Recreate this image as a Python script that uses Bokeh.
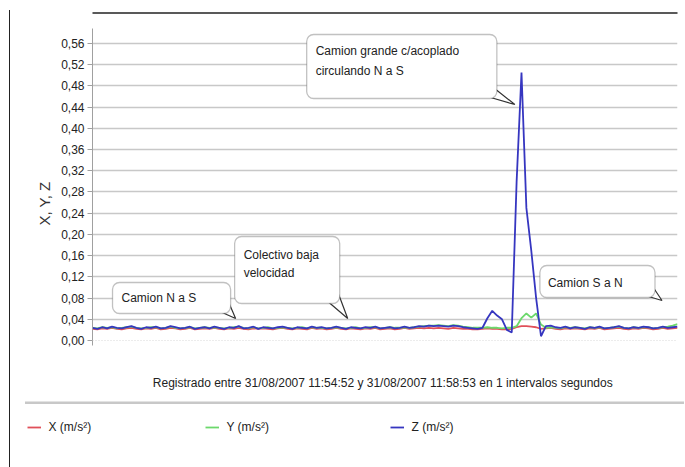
from bokeh.plotting import figure
from bokeh.layouts import column
from bokeh.models import (BoxAnnotation, Label, Legend, LegendItem, FixedTicker,
                          Range1d, Span)
from bokeh.embed import file_html
from bokeh.resources import INLINE

# ---- data (one sample every 2 s, 31/08/2007 11:54:52 - 11:58:53) ----
x_ms2 = [0.022, 0.021, 0.023, 0.022, 0.024, 0.022, 0.021, 0.023, 0.024, 0.022,
         0.021, 0.023, 0.022, 0.024, 0.021, 0.022, 0.024, 0.023, 0.021, 0.022,
         0.024, 0.021, 0.022, 0.023, 0.022, 0.024, 0.022, 0.021, 0.023, 0.022,
         0.024, 0.022, 0.021, 0.023, 0.022, 0.023, 0.022, 0.021, 0.023, 0.024,
         0.022, 0.021, 0.023, 0.022, 0.021, 0.024, 0.022, 0.023, 0.021, 0.022,
         0.024, 0.022, 0.021, 0.023, 0.022, 0.021, 0.023, 0.022, 0.024, 0.021,
         0.022, 0.023, 0.021, 0.022, 0.024, 0.022, 0.023, 0.024, 0.023, 0.024,
         0.023, 0.024, 0.023, 0.022, 0.024, 0.023, 0.022, 0.022, 0.021, 0.021,
         0.022, 0.023, 0.022, 0.022, 0.021, 0.021, 0.022, 0.025, 0.027, 0.027,
         0.026, 0.025, 0.022, 0.023, 0.024, 0.022, 0.021, 0.023, 0.022, 0.023,
         0.022, 0.021, 0.023, 0.022, 0.024, 0.021, 0.022, 0.023, 0.024, 0.022,
         0.021, 0.023, 0.022, 0.024, 0.023, 0.021, 0.022, 0.024, 0.022, 0.023,
         0.024]
y_ms2 = [0.024, 0.023, 0.025, 0.024, 0.025, 0.023, 0.024, 0.025, 0.026, 0.024,
         0.023, 0.024, 0.025, 0.025, 0.023, 0.024, 0.026, 0.024, 0.023, 0.024,
         0.025, 0.023, 0.024, 0.025, 0.024, 0.025, 0.024, 0.023, 0.024, 0.025,
         0.026, 0.024, 0.023, 0.025, 0.023, 0.024, 0.025, 0.023, 0.024, 0.025,
         0.024, 0.023, 0.024, 0.025, 0.023, 0.025, 0.024, 0.024, 0.023, 0.024,
         0.025, 0.024, 0.023, 0.024, 0.025, 0.023, 0.024, 0.025, 0.025, 0.023,
         0.024, 0.025, 0.024, 0.024, 0.025, 0.024, 0.025, 0.026, 0.027, 0.028,
         0.028, 0.029, 0.028, 0.027, 0.029, 0.028, 0.026, 0.025, 0.024, 0.024,
         0.024, 0.025, 0.024, 0.024, 0.023, 0.024, 0.024, 0.027, 0.042, 0.051,
         0.043, 0.051, 0.030, 0.024, 0.025, 0.024, 0.023, 0.025, 0.024, 0.025,
         0.024, 0.023, 0.025, 0.024, 0.025, 0.023, 0.024, 0.025, 0.026, 0.024,
         0.023, 0.025, 0.024, 0.025, 0.025, 0.023, 0.024, 0.025, 0.026, 0.028,
         0.031]
z_ms2 = [0.024, 0.022, 0.025, 0.023, 0.026, 0.024, 0.023, 0.025, 0.027, 0.024,
         0.022, 0.025, 0.024, 0.026, 0.023, 0.024, 0.027, 0.025, 0.023, 0.024,
         0.026, 0.022, 0.024, 0.025, 0.023, 0.026, 0.024, 0.022, 0.025, 0.024,
         0.027, 0.023, 0.024, 0.026, 0.022, 0.025, 0.024, 0.023, 0.025, 0.026,
         0.024, 0.022, 0.025, 0.024, 0.023, 0.026, 0.024, 0.025, 0.023, 0.024,
         0.026, 0.024, 0.022, 0.025, 0.024, 0.023, 0.025, 0.024, 0.026, 0.023,
         0.024, 0.025, 0.023, 0.024, 0.026, 0.024, 0.025, 0.027, 0.026, 0.028,
         0.027, 0.028, 0.027, 0.026, 0.028, 0.027, 0.025, 0.024, 0.023, 0.022,
         0.024, 0.042, 0.056, 0.047, 0.040, 0.020, 0.015, 0.300, 0.505, 0.250,
         0.170, 0.080, 0.008, 0.027, 0.028, 0.025, 0.024, 0.026, 0.023, 0.025,
         0.024, 0.022, 0.025, 0.024, 0.026, 0.023, 0.024, 0.025, 0.027, 0.024,
         0.023, 0.025, 0.024, 0.026, 0.025, 0.023, 0.024, 0.026, 0.024, 0.025,
         0.026]
series_names = ["X (m/s²)", "Y (m/s²)", "Z (m/s²)"]
series_colors = ["#e0505a", "#6cd86c", "#3636c0"]
y_ticks = [0.00, 0.04, 0.08, 0.12, 0.16, 0.20, 0.24, 0.28, 0.32, 0.36, 0.40, 0.44, 0.48, 0.52, 0.56]
y_tick_labels = ["0,00", "0,04", "0,08", "0,12", "0,16", "0,20", "0,24", "0,28",
                 "0,32", "0,36", "0,40", "0,44", "0,48", "0,52", "0,56"]
caption = "Registrado entre 31/08/2007 11:54:52 y 31/08/2007 11:58:53 en 1 intervalos segundos"
callout_texts = [["Camion N a S"], ["Colectivo baja", "velocidad"],
                 ["Camion grande c/acoplado", "circulando N a S"], ["Camion S a N"]]

FONT = "Liberation Sans"
n = len(z_ms2)
idx = list(range(n))

# ---- layout geometry (page pixels) ----
MARGIN_TOP = 10
OX, OY = 10.5, MARGIN_TOP    # content origin
FRAME_L, FRAME_R = 93.0, 677.5
ZERO_PY, PX_PER_UNIT = 340.0, 530.4
TOP_H = 386
W = 674
PX_PER_IDX = (FRAME_R - FRAME_L) / (n - 1)
TOP_LINE_Y = 12.5            # outer frame top edge (page y)


def ix(px):
    return (px - FRAME_L) / PX_PER_IDX


def vy(py):
    return (ZERO_PY - py) / PX_PER_UNIT


y_top = vy(OY)
y_bot = vy(OY + TOP_H)

p = figure(width=W, height=TOP_H, output_backend="svg", toolbar_location=None,
           x_range=Range1d(0, n - 1), y_range=Range1d(y_bot, y_top),
           x_axis_location=None,
           min_border_left=int(FRAME_L - OX), min_border_right=int(OX + W - FRAME_R),
           min_border_top=0, min_border_bottom=0)
p.frame_align = False
p.outline_line_color = None
p.xgrid.visible = False

ax = p.yaxis[0]
ax.ticker = FixedTicker(ticks=y_ticks)
ax.bounds = (vy(345), vy(28))
ax.major_label_overrides = {t: l for t, l in zip(y_ticks, y_tick_labels)}
ax.major_label_text_font = FONT
ax.major_label_text_font_size = "12px"
ax.major_label_text_color = "#222222"
ax.major_label_standoff = 3
ax.major_tick_out = 5
ax.major_tick_in = 0
ax.minor_tick_line_color = None
ax.major_tick_line_color = "#a0a0a0"
ax.axis_line_color = "#a0a0a0"
ax.axis_label = "X, Y, Z"
ax.axis_label_text_font = FONT
ax.axis_label_text_font_style = "normal"
ax.axis_label_text_font_size = "15px"
ax.axis_label_text_color = "#333333"
ax.axis_label_standoff = 5
p.ygrid.ticker = FixedTicker(ticks=y_ticks[1:])
p.ygrid.grid_line_color = "#c8c8c8"
p.ygrid.grid_line_width = 1.5
p.add_layout(Span(location=0, dimension="width", line_color="#d8d8d8", line_dash="1 2", line_width=1))

# outer frame top edge (drawn inside the plot area)
p.add_layout(BoxAnnotation(left=ix(FRAME_L - 2), right=ix(FRAME_R + 8),
                           top=vy(TOP_LINE_Y - 0.75), bottom=vy(TOP_LINE_Y + 0.75),
                           fill_color="#222222", fill_alpha=1.0, line_color=None))

# series
for vals, col in zip([x_ms2, y_ms2, z_ms2], series_colors):
    p.line(idx, vals, line_color=col, line_width=1.8)

# callouts, boxes in page pixels: (left, right, top, bottom), tail tip, text x, text line y's
callout_geom = [
    dict(box=(113, 231, 282, 313), tip=(236, 318), tx=122, ty=[297]),
    dict(box=(235, 340, 236, 303), tip=(348, 318), tx=244, ty=[254, 272]),
    dict(box=(307, 497, 34, 98), tip=(515, 104), tx=316, ty=[50, 70]),
    dict(box=(540, 655, 265, 297), tip=(662, 300), tx=548, ty=[282]),
]
for g in callout_geom:
    l, r, t, b = g["box"]
    xs = [ix(r - 13), ix(r - 1), ix(g["tip"][0])]
    ys = [vy(b - 3), vy(b - 9), vy(g["tip"][1])]
    p.patch(xs, ys, fill_color="white", line_color="#333333", line_width=1.2)
for g in callout_geom:
    l, r, t, b = g["box"]
    p.add_layout(BoxAnnotation(left=ix(l), right=ix(r), bottom=vy(b), top=vy(t),
                               fill_color="white", fill_alpha=1.0,
                               line_color="#333333", line_width=1.3, border_radius=7))
for g, lines in zip(callout_geom, callout_texts):
    for line, py in zip(lines, g["ty"]):
        p.add_layout(Label(x=ix(g["tx"]), y=vy(py), text=line, text_font=FONT,
                           text_font_size="12px", text_color="#222222", text_baseline="middle"))

# caption under the plot area
p.add_layout(Label(x=ix(383), y=vy(382), text=caption, text_font=FONT, text_font_size="12px",
                   text_color="#222222", text_align="center", text_baseline="middle"))

# ---- bottom strip: separator + legend ----
BOT_H = 71
p2 = figure(width=W, height=BOT_H, output_backend="svg", toolbar_location=None,
            x_range=Range1d(0, W), y_range=Range1d(BOT_H, 0),
            x_axis_location=None, y_axis_location=None, min_border=0)
p2.frame_align = False
p2.outline_line_color = None
p2.border_fill_color = None
p2.background_fill_color = None
p2.grid.visible = False
bot_y0 = OY + TOP_H
p2.add_layout(BoxAnnotation(left=25 - OX, right=W, top=401 - bot_y0, bottom=403.5 - bot_y0,
                            fill_color="#c8c8c8", fill_alpha=1.0, line_color=None))
legend_px = [27, 205, 390]
for name, col, lx in zip(series_names, series_colors, legend_px):
    # legend-only renderer, its points lie outside the visible range
    r = p2.line(x=[-20, -10], y=[-20, -20], line_color=col, line_width=1.8)
    lg = Legend(items=[LegendItem(label=name, renderers=[r])],
                location=(lx - OX, BOT_H - (427 - bot_y0) - 7),
                orientation="horizontal", glyph_width=14, glyph_height=14, label_height=14,
                label_standoff=8, padding=0, margin=0, border_line_color=None,
                background_fill_alpha=0, label_text_font=FONT, label_text_font_size="12px",
                label_text_color="#222222")
    p2.add_layout(lg, "center")

layout = column(p, p2, spacing=0,
                styles={"border-left": "1.5px solid #222222",
                        "margin-left": "9px", "margin-top": "%dpx" % MARGIN_TOP})

open("out.html", "w").write(file_html(layout, INLINE))
